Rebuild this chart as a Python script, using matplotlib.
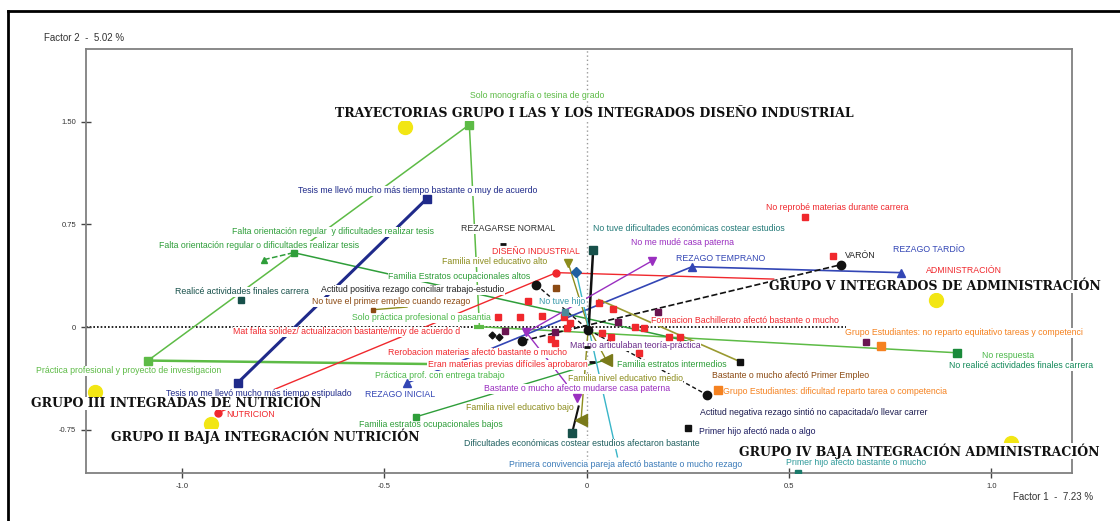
import matplotlib
matplotlib.use('Agg')
import matplotlib.pyplot as plt

plt.rcParams['font.family'] = ['Liberation Sans', 'DejaVu Sans']

# centroides de los grupos (circulos amarillos)
grupo_x = [-0.450, 0.862, -1.215, -0.929, 1.049]
grupo_y = [1.463, 0.199, -0.473, -0.706, -0.845]
grupo_nombre = ['TRAYECTORIAS GRUPO I LAS Y LOS INTEGRADOS DISEÑO INDUSTRIAL',
                'GRUPO V INTEGRADOS DE ADMINISTRACIÓN',
                'GRUPO III INTEGRADAS DE NUTRICIÓN',
                'GRUPO II BAJA INTEGRACIÓN NUTRICIÓN',
                'GRUPO IV BAJA INTEGRACIÓN ADMINISTRACIÓN']
grupo_tx = [0.018, 0.859, -1.014, -0.795, 0.822]
grupo_ty = [1.556, 0.294, -0.560, -0.800, -0.904]

# trabajo final: practica+proyecto, monografia, solo practica, no realice
trab_x = [-1.084, -0.290, -0.265, 0.914]
trab_y = [-0.245, 1.477, 0.002, -0.188]
# linea horizontal desde practica profesional
trab2_x = [-1.084, -0.006]
trab2_y = [-0.245, -0.284]

# falta orientacion (verde)
fo_x = [-0.797, -0.724, 0.277]
fo_y = [0.492, 0.543, -0.122]

# tesis llevo mas tiempo (azul marino)
tesis_x = [-0.862, -0.395]
tesis_y = [-0.407, 0.937]

# rezago inicial, temprano, tardio
rez_x = [-0.445, 0.260, 0.776]
rez_y = [-0.410, 0.440, 0.397]

# carrera: nutricion, diseno, administracion
car_x = [-0.911, -0.075, 0.462]
car_y = [-0.626, 0.397, 0.350]

# sexo: mujer, varon
sexo_x = [-0.159, 0.628]
sexo_y = [-0.101, 0.455]

# actitud positiva, centro, negativa
act_x = [-0.125, 0.004, 0.297]
act_y = [0.309, -0.020, -0.495]

# dificultades economicas: no tuve, afectaron
eco_x = [0.016, -0.036]
eco_y = [0.565, -0.772]

# mudanza casa paterna: afecto, intermedio, no me mude
mud_x = [-0.023, -0.149, 0.162]
mud_y = [-0.517, -0.040, 0.484]

# familia nivel educativo: alto, medio, bajo
fne_x = [-0.046, 0.048, -0.014]
fne_y = [0.470, -0.239, -0.680]

# familia estratos ocupacionales: bajos, intermedios
fes_x = [-0.421, 0.048]
fes_y = [-0.655, -0.239]

# primer empleo: no tuve, afecto bastante
emp_x = [-0.529, 0.379]
emp_y = [0.126, -0.253]

# hijos: no tuve, nada o algo, bastante o mucho
hijo_x = [-0.053, 0.250, 0.521]
hijo_y = [0.110, -0.735, -1.063]

# primera convivencia pareja
conv_x = [-0.026, 0.076]
conv_y = [0.403, -0.948]

# grupo estudiantes
ge_x = [0.726, 0.324]
ge_y = [-0.137, -0.458]

# cuadrados granate
mar_x = [0.689, -0.203, -0.078, 0.078, 0.176]
mar_y = [-0.107, -0.027, -0.034, 0.039, 0.112]

# cuadrados rojos (materias, bachillerato...)
roj_x = [-0.144, 0.031, 0.065, -0.218, -0.166, -0.110, -0.056, -0.041, -0.048, 0.004,
         0.038, -0.088, -0.078, 0.060, 0.120, 0.142, 0.203, 0.231, 0.129, 0.539, 0.608]
roj_y = [0.192, 0.177, 0.134, 0.075, 0.075, 0.083, 0.075, 0.031, -0.005, -0.020,
         -0.042, -0.085, -0.115, -0.071, 0.002, -0.005, -0.071, -0.071, -0.188, 0.806, 0.521]

# etiquetas de modalidades
etq_txt = ['Solo monografía o tesina de grado',
           'Tesis me llevó mucho más tiempo bastante o muy de acuerdo',
           'Falta orientación regular  y dificultades realizar tesis',
           'Falta orientación regular o dificultades realizar tesis',
           'REZAGARSE NORMAL', 'DISEÑO INDUSTRIAL',
           'No tuve dificultades económicas costear estudios',
           'No me mudé casa paterna', 'REZAGO TEMPRANO',
           'No reprobé materias durante carrera', 'VARÓN', 'REZAGO TARDÍO',
           'ADMINISTRACIÓN', 'Familia nivel educativo alto',
           'Familia Estratos ocupacionales altos',
           'Grupo Estudiantes: no reparto equitativo tareas y competenci',
           'No respuesta', 'No realicé actividades finales carrera',
           'Formacion Bachillerato afectó bastante o mucho',
           'Bastante o mucho afectó Primer Empleo',
           'Grupo Estudiantes: dificultad reparto tarea o competencia',
           'Actitud negativa rezago sintió no capacitada/o llevar carrer',
           'Primer hijo afectó nada o algo', 'Primer hijo afectó bastante o mucho',
           'Primera convivencia pareja afectó bastante o mucho rezago',
           'Dificultades económicas costear estudios afectaron bastante',
           'Familia nivel educativo bajo',
           'Bastante o mucho afecto mudarse casa paterna',
           'Familia nivel educativo medio', 'Familia estratos intermedios',
           'Mat no articulaban teoría-práctica',
           'Rerobacion materias afectó bastante o mucho',
           'Eran materias previas difíciles aprobaron',
           'Práctica prof. con entrega trabajo', 'REZAGO INICIAL',
           'Familia estratos ocupacionales bajos', 'NUTRICIÓN',
           'Tesis no me llevó mucho más tiempo estipulado',
           'Práctica profesional y proyecto de investigacion',
           'Realicé actividades finales carrera',
           'Actitud positiva rezago conciliar trabajo-estudio',
           'No tuve el primer empleo cuando rezago',
           'Solo práctica profesional o pasantia',
           'Mat falta solidez/ actualizacion bastante/muy de acuerdo d',
           'No tuve hijo']
etq_x = [-0.122, -0.418, -0.628, -0.810, -0.194, -0.125, 0.253, 0.236, 0.332, 0.620,
         0.677, 0.845, 0.931, -0.228, -0.314, 0.933, 1.042, 1.074, 0.391, 0.504,
         0.613, 0.561, 0.421, 0.665, 0.097, -0.011, -0.166, -0.023, 0.095, 0.211,
         0.120, -0.270, -0.196, -0.363, -0.462, -0.386, -0.830, -0.810, -1.131, -0.852,
         -0.430, -0.482, -0.408, -0.593, -0.060]
etq_y = [1.690, 0.994, 0.695, 0.594, 0.718, 0.550, 0.717, 0.616, 0.500, 0.871,
         0.521, 0.565, 0.411, 0.477, 0.367, -0.042, -0.210, -0.283, 0.046, -0.357,
         -0.473, -0.627, -0.765, -0.991, -1.006, -0.852, -0.590, -0.450, -0.378, -0.276,
         -0.137, -0.188, -0.276, -0.356, -0.495, -0.715, -0.640, -0.488, -0.320, 0.258,
         0.272, 0.185, 0.068, -0.035, 0.185]
etq_col = ['#5dbb46', '#1f2a8a', '#2f9e3a', '#2f9e3a', '#333333', '#f0282d', '#237a78',
           '#9a2fc0', '#3346b5', '#f0282d', '#222222', '#3346b5', '#f0282d', '#8c8c1c',
           '#2f9e3a', '#f58220', '#4cb84a', '#138a5a', '#f0282d', '#8b4a13', '#f58220',
           '#1c1c50', '#1c1c60', '#2f9a9a', '#3a7ab8', '#1f5f5f', '#8c8c1c', '#9a2fc0',
           '#8c8c1c', '#2f9e3a', '#6a2a8a', '#f0282d', '#f0282d', '#4cb84a', '#3346b5',
           '#2f9e3a', '#f0282d', '#1f2a8a', '#5dbb46', '#17504a', '#222222', '#8b4a13',
           '#4cb84a', '#f0282d', '#3a9aaa']

fig = plt.figure(figsize=(11.2, 5.21), dpi=100)
ax = fig.add_axes([0.0768, 0.0921, 0.8800, 0.8139])
ax.set_xlim(-1.237, 1.198)
ax.set_ylim(-1.066, 2.03)

# ejes de referencia
ax.plot([-1.237, 0.64], [0, 0], color='black', ls=(0, (1, 1.2)), lw=1.2, zorder=1)
ax.axvline(0, color='#999999', ls=(0, (1, 2)), lw=1, zorder=1)

# lineas de trayectoria
ax.plot(trab_x, trab_y, color='#5dbb46', lw=1.1, zorder=2)
ax.plot(trab2_x, trab2_y, color='#5dbb46', lw=1.8, zorder=2)
ax.plot(fo_x[:2], fo_y[:2], color='#2f9e3a', lw=1.1, ls='--', zorder=2)
ax.plot(fo_x[1:], fo_y[1:], color='#2f9e3a', lw=1.1, zorder=2)
ax.plot(tesis_x, tesis_y, color='#1f2a8a', lw=2.2, zorder=2)
ax.plot(rez_x, rez_y, color='#3346b5', lw=1.2, zorder=2)
ax.plot(car_x, car_y, color='#f0282d', lw=1.0, zorder=2)
ax.plot(sexo_x, sexo_y, color='#111111', lw=1.2, ls='--', zorder=2)
ax.plot(act_x, act_y, color='#111111', lw=1.0, ls=(0, (3, 2)), zorder=2)
ax.plot([eco_x[0], 0.004], [eco_y[0], -0.05], color='#111111', lw=1.8, zorder=2)
ax.plot([eco_x[1], -0.020], [eco_y[1], -0.58], color='#111111', lw=1.5, zorder=2)
ax.plot(mud_x, mud_y, color='#9a2fc0', lw=1.0, zorder=2)
for i in range(3):
    ax.plot([0.004, fne_x[i]], [0.0, fne_y[i]], color='#8c8c1c', lw=1.0, zorder=2)
ax.plot(fes_x, fes_y, color='#2f9e3a', lw=1.0, zorder=2)
ax.plot([0.03, emp_x[1]], [0.2, emp_y[1]], color='#9a9a30', lw=1.2, zorder=2)
ax.plot([emp_x[0], emp_x[0] + 0.085], [emp_y[0], emp_y[0] + 0.02], color='#8c8c1c', lw=1.0, zorder=2)
ax.plot(conv_x, conv_y, color='#39b5c8', lw=1.0, zorder=2)

# marcadores
ax.plot(roj_x, roj_y, 's', color='#f0282d', ms=4, ls='none', zorder=4)
ax.plot(mar_x, mar_y, 's', color='#6a1550', ms=5, ls='none', zorder=4)
ax.plot(trab_x[:2], trab_y[:2], 's', color='#5dbb46', ms=5.5, ls='none', zorder=4)
ax.plot(trab_x[2], trab_y[2], '_', color='#5dbb46', ms=7, mew=3, zorder=4)
ax.plot(trab_x[3], trab_y[3], 's', color='#1a8a3a', ms=5.5, zorder=4)
ax.plot(fo_x[0], fo_y[0], '^', color='#2f9e3a', ms=5, zorder=4)
ax.plot(fo_x[1], fo_y[1], 's', color='#2f9e3a', ms=4.5, zorder=4)
ax.plot(-0.855, 0.199, 's', color='#17504a', ms=4.5, zorder=4)
ax.plot(tesis_x, tesis_y, 's', color='#1f2a8a', ms=6, ls='none', zorder=4)
ax.plot(rez_x, rez_y, '^', color='#3346b5', ms=6, ls='none', zorder=4)
ax.plot(car_x[:2], car_y[:2], 'o', color='#f0282d', ms=5, ls='none', zorder=4)
ax.plot(sexo_x, sexo_y, 'o', color='#111111', ms=6, ls='none', zorder=4)
ax.plot([-0.233, -0.216], [-0.056, -0.070], 'D', color='#111111', ms=3.5, ls='none', zorder=4)
ax.plot(act_x, act_y, 'o', color='#111111', ms=6, ls='none', zorder=4)
ax.plot(eco_x, eco_y, 's', color='#17504a', ms=5.5, ls='none', zorder=4)
ax.plot(mud_x, mud_y, 'v', color='#9a2fc0', ms=6, ls='none', zorder=4)
ax.plot(fne_x[0], fne_y[0], 'v', color='#8c8c1c', ms=6, zorder=4)
ax.plot(fne_x[1:], fne_y[1:], '<', color='#7a7a1a', ms=9, ls='none', zorder=4)
ax.plot(fes_x[0], fes_y[0], 's', color='#2f9e3a', ms=5, zorder=4)
ax.plot(emp_x[0], emp_y[0], 's', color='#8b4a13', ms=3, zorder=4)
ax.plot(-0.075, 0.287, 's', color='#8b4a13', ms=4.5, zorder=4)
ax.plot(emp_x[1], emp_y[1], 's', color='#111111', ms=5, zorder=4)
ax.plot(hijo_x[0], hijo_y[0], 's', color='#4a8a9a', ms=5, zorder=4)
ax.plot(hijo_x[1], hijo_y[1], 's', color='#111111', ms=5, zorder=4)
ax.plot(hijo_x[2], hijo_y[2], 's', color='#1a7a6a', ms=5, zorder=4)
ax.plot(conv_x[0], conv_y[0], 'D', color='#2060a0', ms=5, zorder=4)
ax.plot(ge_x, ge_y, 's', color='#f58220', ms=5.5, ls='none', zorder=4)
ax.plot([-0.208, 0.0, 0.013], [0.607, -0.145, -0.256], '_', color='#111111', ms=4, mew=2, ls='none', zorder=4)

# etiquetas
for i in range(len(etq_txt)):
    ax.text(etq_x[i], etq_y[i], etq_txt[i], color=etq_col[i], fontsize=6.3,
            ha='center', va='center', zorder=3,
            bbox=dict(facecolor='white', edgecolor='none', pad=0.3))

# grupos
ax.plot(grupo_x, grupo_y, 'o', color='#f2e614', ms=10, ls='none', zorder=6)
for i in range(len(grupo_nombre)):
    ax.text(grupo_tx[i], grupo_ty[i], grupo_nombre[i], family='DejaVu Serif',
            fontweight='bold', fontsize=9.0, color='#111111', ha='center', va='center',
            zorder=7, bbox=dict(facecolor='white', edgecolor='none', pad=0.2))

# ejes
ax.set_xticks([-1.0, -0.5, 0, 0.5, 1.0])
ax.set_xticklabels(['-1.0', '-0.5', '0', '0.5', '1.0'])
ax.set_yticks([1.5, 0.75, 0, -0.75])
ax.set_yticklabels(['1.50', '0.75', '0', '-0.75'])
ax.tick_params(direction='inout', length=7, width=1, color='#444444',
               labelsize=5.5, labelcolor='#333333')
for s in ax.spines.values():
    s.set_color('#808080')
    s.set_linewidth(1.3)

fig.text(0.039, 0.927, 'Factor 2  -  5.02 %', fontsize=7, color='#333333', ha='left', va='center')
fig.text(0.976, 0.046, 'Factor 1  -  7.23 %', fontsize=7, color='#333333', ha='right', va='center')

# marco exterior
fig.add_artist(plt.Line2D([0.0075, 0.0075], [-0.01, 0.979], color='black', lw=2, transform=fig.transFigure))
fig.add_artist(plt.Line2D([0.0075, 1.01], [0.979, 0.979], color='black', lw=2, transform=fig.transFigure))

fig.savefig('out.png', dpi=100)
